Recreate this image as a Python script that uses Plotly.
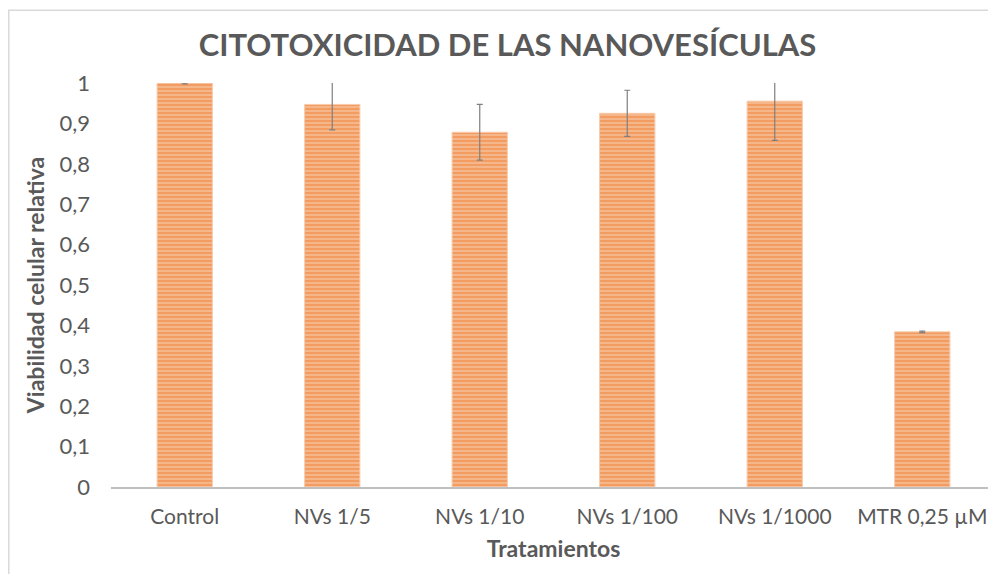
import plotly.graph_objects as go

categories = ["Control", "NVs 1/5", "NVs 1/10", "NVs 1/100", "NVs 1/1000", "MTR 0,25 µM"]
viabilidad = [1.0, 0.947, 0.878, 0.925, 0.955, 0.384]
error = [0.002, 0.063, 0.069, 0.057, 0.097, 0.002]
ytick_vals = [0, 0.1, 0.2, 0.3, 0.4, 0.5, 0.6, 0.7, 0.8, 0.9, 1]
ytick_text = ["0", "0,1", "0,2", "0,3", "0,4", "0,5", "0,6", "0,7", "0,8", "0,9", "1"]

FONT = "Lato"
GRAY = "#595959"

fig = go.Figure(go.Bar(
    x=categories, y=viabilidad,
    marker=dict(
        color="#F4B183",
        line=dict(width=1, color="#F8CBAD"),
        pattern=dict(shape="-", fgcolor="#ED7D31", bgcolor="#F5B68A", size=4, solidity=0.45),
    ),
    error_y=dict(type="data", array=error, visible=True, color="#7F7F7F", thickness=1.2, width=3),
))

fig.update_layout(
    width=988, height=566,
    margin=dict(l=103, r=0, t=75, b=87, autoexpand=False),
    plot_bgcolor="white", paper_bgcolor="white",
    bargap=0.625,
    showlegend=False,
    font=dict(family=FONT, color=GRAY),
    title=dict(text="<b>CITOTOXICIDAD DE LAS NANOVESÍCULAS</b>", x=0.5056, xanchor="center",
               y=0.9346, yanchor="middle", font=dict(size=31, color=GRAY, family=FONT)),
    xaxis=dict(showline=True, linecolor="#BFBFBF", linewidth=1.5, ticks="", automargin=False,
               ticklabelstandoff=10,
               tickfont=dict(size=21, color=GRAY),
               title=dict(text="<b>Tratamientos</b>", font=dict(size=23, color=GRAY), standoff=14)),
    yaxis=dict(range=[0, 1], tickvals=ytick_vals, ticktext=ytick_text, showgrid=False,
               zeroline=False, showline=False, ticks="", ticklabelstandoff=20, automargin=False,
               tickfont=dict(size=22, color=GRAY),
               title=dict(text="<b>Viabilidad celular relativa</b>", font=dict(size=23, color=GRAY), standoff=8)),
    shapes=[dict(type="rect", xref="paper", yref="paper",
                 x0=-0.1155, x1=1.01, y0=-0.25, y1=1.18,
                 line=dict(color="#D9D9D9", width=1.5), layer="below")],
)

fig.write_html("out.html")
